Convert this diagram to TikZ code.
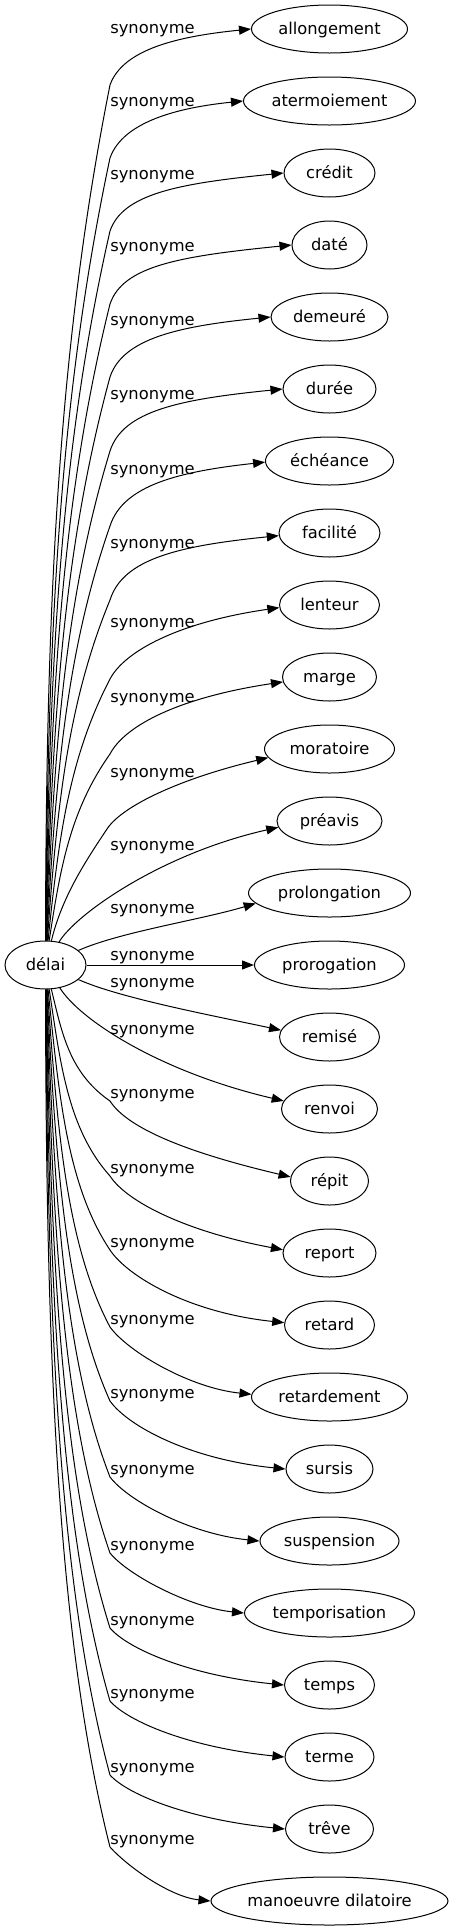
\documentclass[tikz,border=0pt]{standalone}
\usepackage{fontspec}
\setmainfont{DejaVu Sans}
\usetikzlibrary{arrows.meta,shapes.geometric}
\newcommand\nd[4]{\node[word,minimum width=#3pt] (#1) at (329.5,#2) {#4};}
\newcommand\lb[2]{\node[lbl] (#1) at (152.5,#2) {synonyme};}
\newcommand\upE[7]{\draw[edge] (delai) .. controls (#2,{942-0.4*(942-#3)}) and ({110-0.8*(110-#2)},{#3+0.3*(942-#3)}) .. (110,#3) .. controls (#5,#6) and (180,#7) .. (#1.#4);}
\newcommand\loE[7]{\draw[edge] (delai) .. controls (#2,{988+0.4*(#3-988)}) and ({110-0.85*(110-#2)},{#3-0.25*(#3-988)}) .. (110,#3) .. controls (128,#5) and (#6,#7) .. (#1.#4);}
\begin{document}
\begin{tikzpicture}[x=1pt,y=-1pt,
  word/.style={ellipse,draw,line width=1pt,inner sep=0pt,minimum height=48pt,text height=13pt,text depth=2pt,font=\fontsize{16.3}{19}\selectfont},
  lbl/.style={anchor=base,inner sep=0pt,font=\fontsize{16.3}{19}\selectfont},
  edge/.style={line width=1pt,-{Triangle[length=12pt,width=9pt]}}]
\useasboundingbox (0,0) rectangle (453,1931);
\node[word,minimum width=81pt] (delai) at (45.5,965) {délai};
\nd{n0}{29}{156}{allongement}
\nd{n1}{101}{172}{atermoiement}
\nd{n2}{173}{91}{crédit}
\nd{n3}{245}{75}{daté}
\nd{n4}{317}{117}{demeuré}
\nd{n5}{389}{93}{durée}
\nd{n6}{461}{128}{échéance}
\nd{n7}{533}{101}{facilité}
\nd{n8}{605}{100}{lenteur}
\nd{n9}{677}{94}{marge}
\nd{n10}{749}{130}{moratoire}
\nd{n11}{821}{105}{préavis}
\nd{n12}{893}{162}{prolongation}
\nd{n13}{965}{150}{prorogation}
\nd{n14}{1037}{100}{remisé}
\nd{n15}{1109}{96}{renvoi}
\nd{n16}{1181}{78}{répit}
\nd{n17}{1253}{93}{report}
\nd{n18}{1325}{90}{retard}
\nd{n19}{1397}{156}{retardement}
\nd{n20}{1469}{87}{sursis}
\nd{n21}{1541}{139}{suspension}
\nd{n22}{1613}{170}{temporisation}
\nd{n23}{1685}{90}{temps}
\nd{n24}{1757}{89}{terme}
\nd{n25}{1829}{88}{trêve}
\nd{n26}{1901}{237}{manoeuvre dilatoire}
\lb{l0}{33.3}
\lb{l1}{106}
\lb{l2}{179}
\lb{l3}{251.7}
\lb{l4}{325}
\lb{l5}{399}
\lb{l6}{474}
\lb{l7}{548}
\lb{l8}{627}
\lb{l9}{702}
\lb{l10}{777}
\lb{l11}{850}
\lb{l12}{913}
\lb{l13}{960}
\lb{l14}{987}
\lb{l15}{1034}
\lb{l16}{1098}
\lb{l17}{1173}
\lb{l18}{1247}
\lb{l19}{1324}
\lb{l20}{1398}
\lb{l21}{1474}
\lb{l22}{1550}
\lb{l23}{1625}
\lb{l24}{1698}
\lb{l25}{1772}
\lb{l26}{1844}
\upE{n0}{46}{85}{180}{123}{48.6}{36.1}
\upE{n1}{47.6}{158}{180}{123}{121}{107.4}
\upE{n2}{49.2}{231}{180}{123}{193.3}{183.4}
\upE{n3}{50.8}{304}{180}{123}{265.7}{256.2}
\upE{n4}{52.4}{377}{180}{123}{338}{326.1}
\upE{n5}{54}{451}{180}{123}{410.7}{399.3}
\upE{n6}{55.6}{526}{181.7}{123}{485}{471.4}
\upE{n7}{57.2}{600}{183.4}{123}{558.4}{545.7}
\upE{n8}{58.8}{679}{183.4}{125}{650.6}{621.9}
\upE{n9}{60.4}{754}{186}{125}{725.2}{697.3}
\draw[edge] (delai) .. controls (62,897) and (85,862) .. (107,829) .. controls (122,806) and (180,778.6) .. (n10.188.1);
\draw[edge] (delai) .. controls (75,915) and (160,854) .. (n11.187.6);
\draw[edge] (delai) .. controls (120,932) and (200,920) .. (n12.188.9);
\draw[edge] (delai) -- (n13);
\draw[edge] (delai) .. controls (120,998) and (210,1015) .. (n14.172.1);
\draw[edge] (delai) .. controls (80,1020) and (160,1072) .. (n15.170.4);
\loE{n16}{62}{1101}{174.4}{1129.1}{190}{1153.2}
\loE{n17}{60.4}{1176}{176.3}{1203.4}{190}{1232.3}
\loE{n18}{58.8}{1250}{177.5}{1277}{190}{1312.8}
\loE{n19}{57.2}{1327}{178}{1351.8}{190}{1388}
\loE{n20}{55.6}{1401}{180}{1426.2}{190}{1459.4}
\loE{n21}{54}{1477}{180}{1500.7}{190}{1534}
\loE{n22}{52.4}{1553}{180}{1575.2}{190}{1607.6}
\loE{n23}{50.8}{1628}{180}{1649.1}{190}{1675.5}
\loE{n24}{49.2}{1701}{180}{1721.7}{190}{1747.5}
\loE{n25}{47.6}{1775}{180}{1795}{190}{1819.5}
\loE{n26}{46}{1847}{180}{1867}{170.6}{1897}
\end{tikzpicture}
\end{document}
